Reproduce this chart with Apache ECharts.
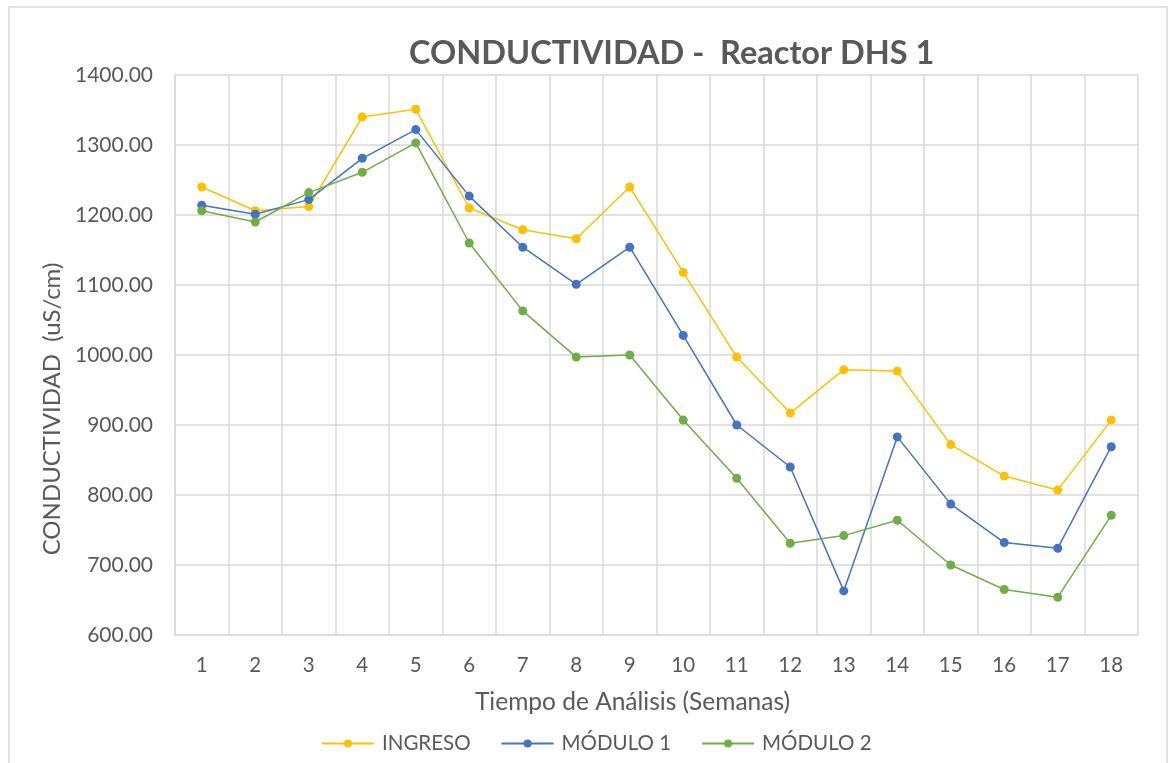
<!DOCTYPE html>
<html>
<head>
<meta charset="utf-8">
<script src="https://cdn.jsdelivr.net/npm/echarts@6/dist/echarts.min.js"></script>
<style>
    html, body { margin: 0; padding: 0; background: #fff; }
    #main { width: 1170px; height: 763px; }
</style>
</head>
<body>
<div id="main"></div>
<script>
var semanas = ['1','2','3','4','5','6','7','8','9','10','11','12','13','14','15','16','17','18'];
var ingreso = [1240, 1206, 1212, 1340, 1351, 1210, 1179, 1166, 1240, 1118, 997, 917, 979, 977, 872, 827, 807, 907];
var modulo1 = [1214, 1201, 1222, 1281, 1322, 1227, 1154, 1101, 1154, 1028, 900, 840, 663, 883, 787, 732, 724, 869];
var modulo2 = [1206, 1190, 1232, 1261, 1303, 1160, 1063, 997, 1000, 907, 824, 731, 742, 764, 700, 665, 654, 771];

var myChart = echarts.init(document.getElementById('main'));
var txt = '#595959';
var fuente = 'Lato, "Open Sans", sans-serif';

function serie(nombre, datos, color){
    return {
        name: nombre,
        type: 'line',
        data: datos,
        symbol: 'circle',
        symbolSize: 9,
        itemStyle: { color: color },
        lineStyle: { color: color, width: 1.5 }
    };
}

var option = {
    animation: false,
    textStyle: { fontFamily: fuente },
    title: {
        text: 'CONDUCTIVIDAD -  Reactor DHS 1',
        left: 404,
        top: 32,
        textStyle: { color: txt, fontSize: 32.5, fontWeight: 'bold', fontFamily: fuente }
    },
    graphic: [{
        type: 'rect',
        shape: { x: 9, y: 7, width: 1158, height: 800 },
        style: { fill: 'none', stroke: '#d9d9d9', lineWidth: 1.5 }
    }],
    legend: {
        left: 316,
        top: 728,
        itemWidth: 52,
        itemHeight: 10,
        itemGap: 30,
        textStyle: { color: txt, fontSize: 20.5, fontFamily: fuente, padding: [0, 0, 0, 3] },
        data: ['INGRESO', 'MÓDULO 1', 'MÓDULO 2']
    },
    grid: { left: 175, right: 32, top: 75, bottom: 128 },
    xAxis: {
        type: 'category',
        data: semanas,
        boundaryGap: true,
        name: 'Tiempo de Análisis (Semanas)',
        nameLocation: 'middle',
        nameGap: 55,
        nameTextStyle: { color: txt, fontSize: 24.5, fontFamily: fuente, padding: [0, 48, 0, 0] },
        axisLine: { lineStyle: { color: '#d9d9d9', width: 1.5 } },
        axisTick: { show: false },
        axisLabel: { color: txt, fontSize: 20.5, margin: 20, fontFamily: fuente },
        splitLine: { show: true, lineStyle: { color: '#d9d9d9', width: 1.5 } }
    },
    yAxis: {
        type: 'value',
        min: 600,
        max: 1400,
        interval: 100,
        name: 'CONDUCTIVIDAD  (uS/cm)',
        nameLocation: 'middle',
        nameGap: 110,
        nameTextStyle: { color: txt, fontSize: 24, fontFamily: fuente, padding: [0, 108, 0, 0] },
        axisLine: { show: true, lineStyle: { color: '#d9d9d9', width: 1.5 } },
        axisTick: { show: false },
        axisLabel: {
            color: txt, fontSize: 21, margin: 22, fontFamily: fuente,
            formatter: function(v){ return v.toFixed(2); }
        },
        splitLine: { show: true, lineStyle: { color: '#d9d9d9', width: 1.5 } }
    },
    series: [
        serie('INGRESO', ingreso, '#FFC000'),
        serie('MÓDULO 1', modulo1, '#4472C4'),
        serie('MÓDULO 2', modulo2, '#70AD47')
    ]
};
myChart.setOption(option);
</script>
</body>
</html>
